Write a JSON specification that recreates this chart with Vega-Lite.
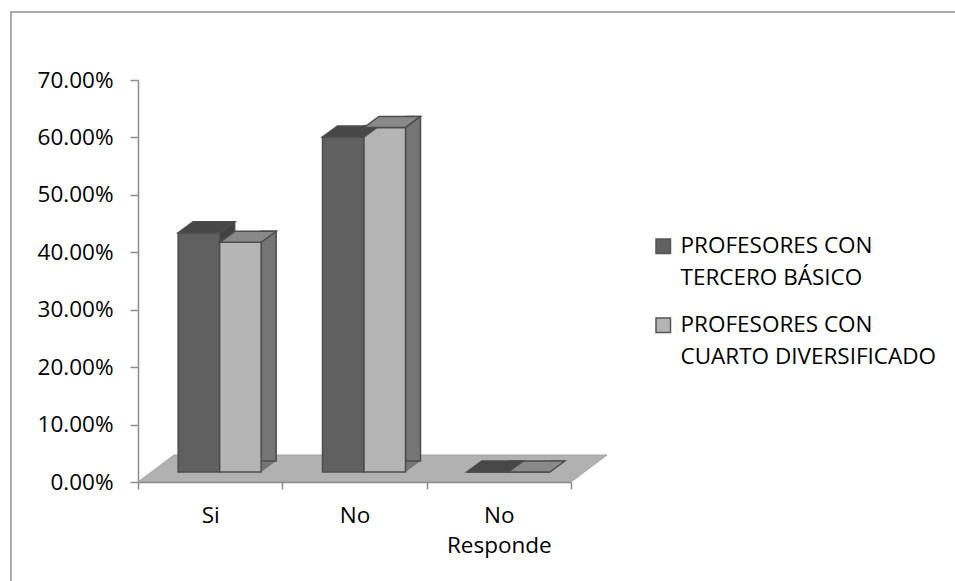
{
  "$schema": "https://vega.github.io/schema/vega-lite/v6.json",
  "autosize": {"type": "none"},
  "padding": {"left": 11, "top": 12, "right": -6, "bottom": -6},
  "width": 950,
  "height": 575,
  "background": "#ffffff",
  "config": {
    "font": "Open Sans",
    "view": {"stroke": "#8f8f8f", "strokeWidth": 1.5},
    "axis": {
      "labelFont": "Open Sans",
      "labelFontSize": 22.5,
      "labelColor": "#000000",
      "domainColor": "#8c8c8c",
      "domainWidth": 1.5,
      "tickColor": "#8c8c8c",
      "tickWidth": 1.5,
      "grid": false,
      "title": null
    }
  },
  "data": {
    "values": [
      {"categoria": "Si", "grupo": "PROFESORES CON TERCERO BÁSICO", "porcentaje": 0.4167},
      {"categoria": "Si", "grupo": "PROFESORES CON CUARTO DIVERSIFICADO", "porcentaje": 0.40},
      {"categoria": "No", "grupo": "PROFESORES CON TERCERO BÁSICO", "porcentaje": 0.5833},
      {"categoria": "No", "grupo": "PROFESORES CON CUARTO DIVERSIFICADO", "porcentaje": 0.60},
      {"categoria": "No Responde", "grupo": "PROFESORES CON TERCERO BÁSICO", "porcentaje": 0},
      {"categoria": "No Responde", "grupo": "PROFESORES CON CUARTO DIVERSIFICADO", "porcentaje": 0}
    ]
  },
  "resolve": {"scale": {"xOffset": "independent"}},
  "encoding": {
    "x": {
      "field": "categoria",
      "type": "nominal",
      "sort": ["Si", "No", "No Responde"],
      "scale": {"range": [127, 560], "paddingInner": 0, "paddingOuter": 0},
      "axis": {
        "offset": -105,
        "labelAngle": 0,
        "tickBand": "extent",
        "tickSize": 7,
        "labelPadding": 15,
        "labelLineHeight": 30,
        "zindex": 1,
        "labelExpr": "datum.value === 'No Responde' ? ['No', 'Responde'] : datum.label"
      }
    },
    "y": {
      "field": "porcentaje",
      "type": "quantitative",
      "scale": {"domain": [0, 0.7], "range": [470, 68], "nice": false},
      "axis": {
        "offset": -127,
        "values": [0, 0.1, 0.2, 0.3, 0.4, 0.5, 0.6, 0.7],
        "format": ".2%",
        "tickSize": 8,
        "labelPadding": 17
      }
    }
  },
  "layer": [
    {
      "description": "floor of the 3-D plot, anchored under the middle category",
      "transform": [{"filter": "datum.categoria === 'No' && datum.grupo === 'PROFESORES CON TERCERO BÁSICO'"}],
      "mark": {
        "type": "point",
        "shape": "M -216.5 0 L 216.5 0 L 252.5 -27 L -180.5 -27 Z",
        "size": 4,
        "filled": true,
        "opacity": 1,
        "fill": "#b1b1b1",
        "stroke": "#a2a2a2",
        "strokeWidth": 1
      },
      "encoding": {"y": {"datum": 0, "type": "quantitative"}}
    },
    {
      "description": "lower corner of each bar's side face",
      "mark": {
        "type": "point",
        "shape": "M 0 0 L 41.5 0 L 56.5 -11 L 15 -11 Z",
        "size": 4,
        "filled": true,
        "opacity": 1,
        "yOffset": -10
      },
      "encoding": {
        "xOffset": {"field": "grupo", "type": "nominal", "sort": ["PROFESORES CON TERCERO BÁSICO", "PROFESORES CON CUARTO DIVERSIFICADO"], "scale": {"type": "point", "range": [40.17, 81.67], "padding": 0}},
        "y": {"datum": 0, "type": "quantitative"},
        "fill": {"condition": {"test": "datum.grupo === 'PROFESORES CON TERCERO BÁSICO'", "value": "#424242"}, "value": "#757575"}
      }
    },
    {
      "description": "side faces",
      "mark": {
        "type": "bar",
        "width": 15,
        "yOffset": -21,
        "stroke": "#4c4c4c",
        "strokeWidth": 1.5
      },
      "encoding": {
        "xOffset": {"field": "grupo", "type": "nominal", "sort": ["PROFESORES CON TERCERO BÁSICO", "PROFESORES CON CUARTO DIVERSIFICADO"], "scale": {"range": [68.42, 151.42], "paddingInner": 0, "paddingOuter": 0}},
        "fill": {"condition": {"test": "datum.grupo === 'PROFESORES CON TERCERO BÁSICO'", "value": "#424242"}, "value": "#757575"}
      }
    },
    {
      "description": "front faces, carrying the legend",
      "mark": {
        "type": "bar",
        "yOffset": -10,
        "stroke": "#4c4c4c",
        "strokeWidth": 1.5,
        "opacity": 1
      },
      "encoding": {
        "xOffset": {"field": "grupo", "type": "nominal", "sort": ["PROFESORES CON TERCERO BÁSICO", "PROFESORES CON CUARTO DIVERSIFICADO"], "scale": {"range": [40.17, 123.17], "paddingInner": 0, "paddingOuter": 0}},
        "color": {
          "field": "grupo",
          "type": "nominal",
          "sort": ["PROFESORES CON TERCERO BÁSICO", "PROFESORES CON CUARTO DIVERSIFICADO"],
          "scale": {"range": ["#606060", "#b4b4b4"]},
          "legend": {
            "orient": "none",
            "legendX": 641,
            "legendY": 223,
            "title": null,
            "symbolType": "square",
            "symbolSize": 210,
            "symbolStrokeColor": "#555555",
            "symbolStrokeWidth": 1.5,
            "symbolOpacity": 1,
            "labelFont": "Open Sans",
            "labelFontSize": 22.5,
            "labelColor": "#000000",
            "labelLimit": 400,
            "labelOffset": 6,
            "rowPadding": 24,
            "labelExpr": "['PROFESORES CON', replace(datum.label, 'PROFESORES CON ', '')]",
            "encode": {"labels": {"update": {"lineHeight": {"value": 32}}}}
          }
        }
      }
    },
    {
      "description": "top faces",
      "mark": {
        "type": "point",
        "shape": "M 0 0 L 41.5 0 L 56.5 -11 L 15 -11 Z",
        "size": 4,
        "filled": true,
        "opacity": 1,
        "yOffset": -10,
        "stroke": "#4c4c4c",
        "strokeWidth": 1.5
      },
      "encoding": {
        "xOffset": {"field": "grupo", "type": "nominal", "sort": ["PROFESORES CON TERCERO BÁSICO", "PROFESORES CON CUARTO DIVERSIFICADO"], "scale": {"type": "point", "range": [40.17, 81.67], "padding": 0}},
        "fill": {"condition": {"test": "datum.grupo === 'PROFESORES CON TERCERO BÁSICO'", "value": "#474747"}, "value": "#898989"}
      }
    }
  ]
}
